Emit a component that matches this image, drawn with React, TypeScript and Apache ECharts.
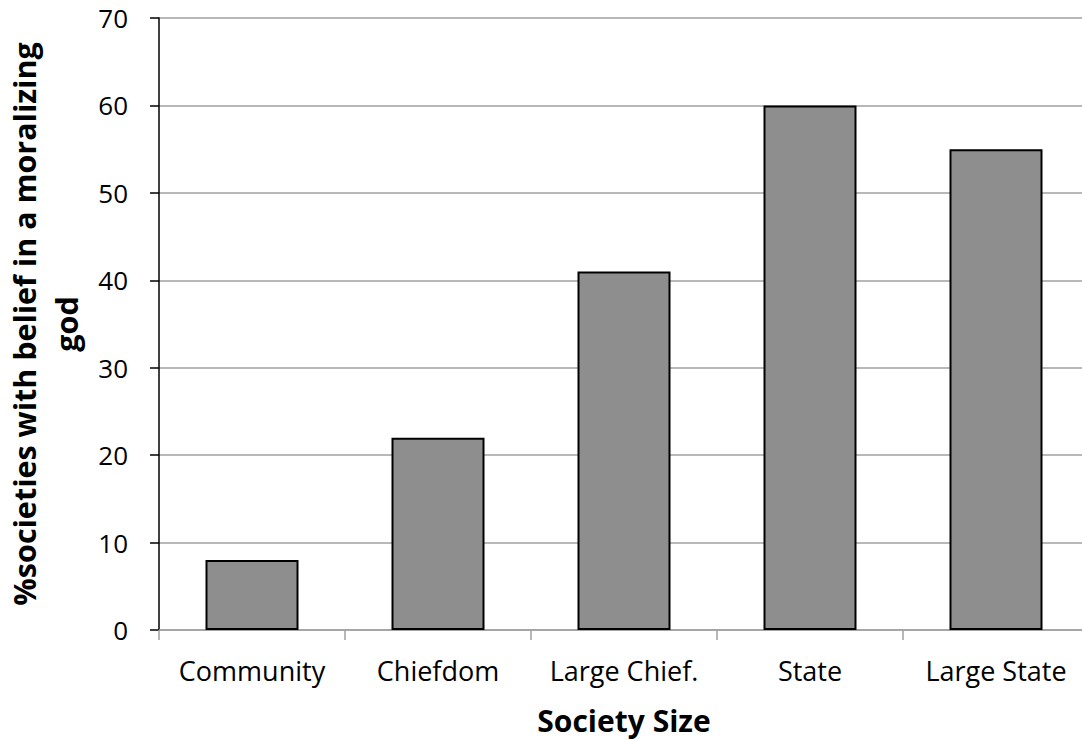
import React, { useEffect, useRef } from "react";
import * as echarts from "echarts";

const categories = ["Community", "Chiefdom", "Large Chief.", "State", "Large State"];
const values = [8, 22, 41, 60, 55];
const yMin = 0;
const yMax = 70;
const yInterval = 10;
const xTitle = "Society Size";
const yTitle = "%societies with belief in a moralizing\ngod";

const FONT = "Open Sans";

export default function App() {
  const ref = useRef<HTMLDivElement>(null);
  useEffect(() => {
    if (!ref.current) return;
    const chart = echarts.init(ref.current, null, { renderer: "svg" });
    chart.setOption({
      animation: false,
      backgroundColor: "#ffffff",
      grid: { left: 159, top: 18, width: 930, height: 612, containLabel: false, outerBoundsMode: "none" },
      xAxis: {
        type: "category",
        data: categories,
        name: xTitle,
        nameLocation: "middle",
        nameGap: 75,
        nameTextStyle: { fontFamily: FONT, fontSize: 30, fontWeight: "bold", color: "#000" },
        axisLine: { show: true, lineStyle: { color: "#a0a0a0", width: 1.5 } },
        axisTick: { show: true, interval: 0, length: 10, lineStyle: { color: "#a0a0a0", width: 1.5 } },
        axisLabel: { interval: 0, fontFamily: FONT, fontSize: 27, color: "#000", margin: 27 },
        splitLine: { show: false },
      },
      yAxis: {
        type: "value",
        min: yMin,
        max: yMax,
        interval: yInterval,
        name: yTitle,
        nameLocation: "middle",
        nameRotate: 90,
        nameGap: 59,
        nameTextStyle: { fontFamily: FONT, fontSize: 30.5, fontWeight: "bold", color: "#000", lineHeight: 42, align: "center" },
        axisLine: { show: true, lineStyle: { color: "#000", width: 1.5 } },
        axisTick: { show: true, length: 9, lineStyle: { color: "#000", width: 1.5 } },
        axisLabel: { fontFamily: FONT, fontSize: 26, color: "#000", margin: 31 },
        splitLine: { show: true, lineStyle: { color: "#a0a0a0", width: 1.5 } },
      },
      series: [
        {
          type: "bar",
          data: values,
          barWidth: "50%",
          itemStyle: { color: "#8e8e8e", borderColor: "#000", borderWidth: 2 },
        },
      ],
    });
    return () => chart.dispose();
  }, []);
  return (
    <div
      ref={ref}
      style={{ position: "absolute", left: 0, top: 0, width: 1082, height: 740 }}
    />
  );
}
